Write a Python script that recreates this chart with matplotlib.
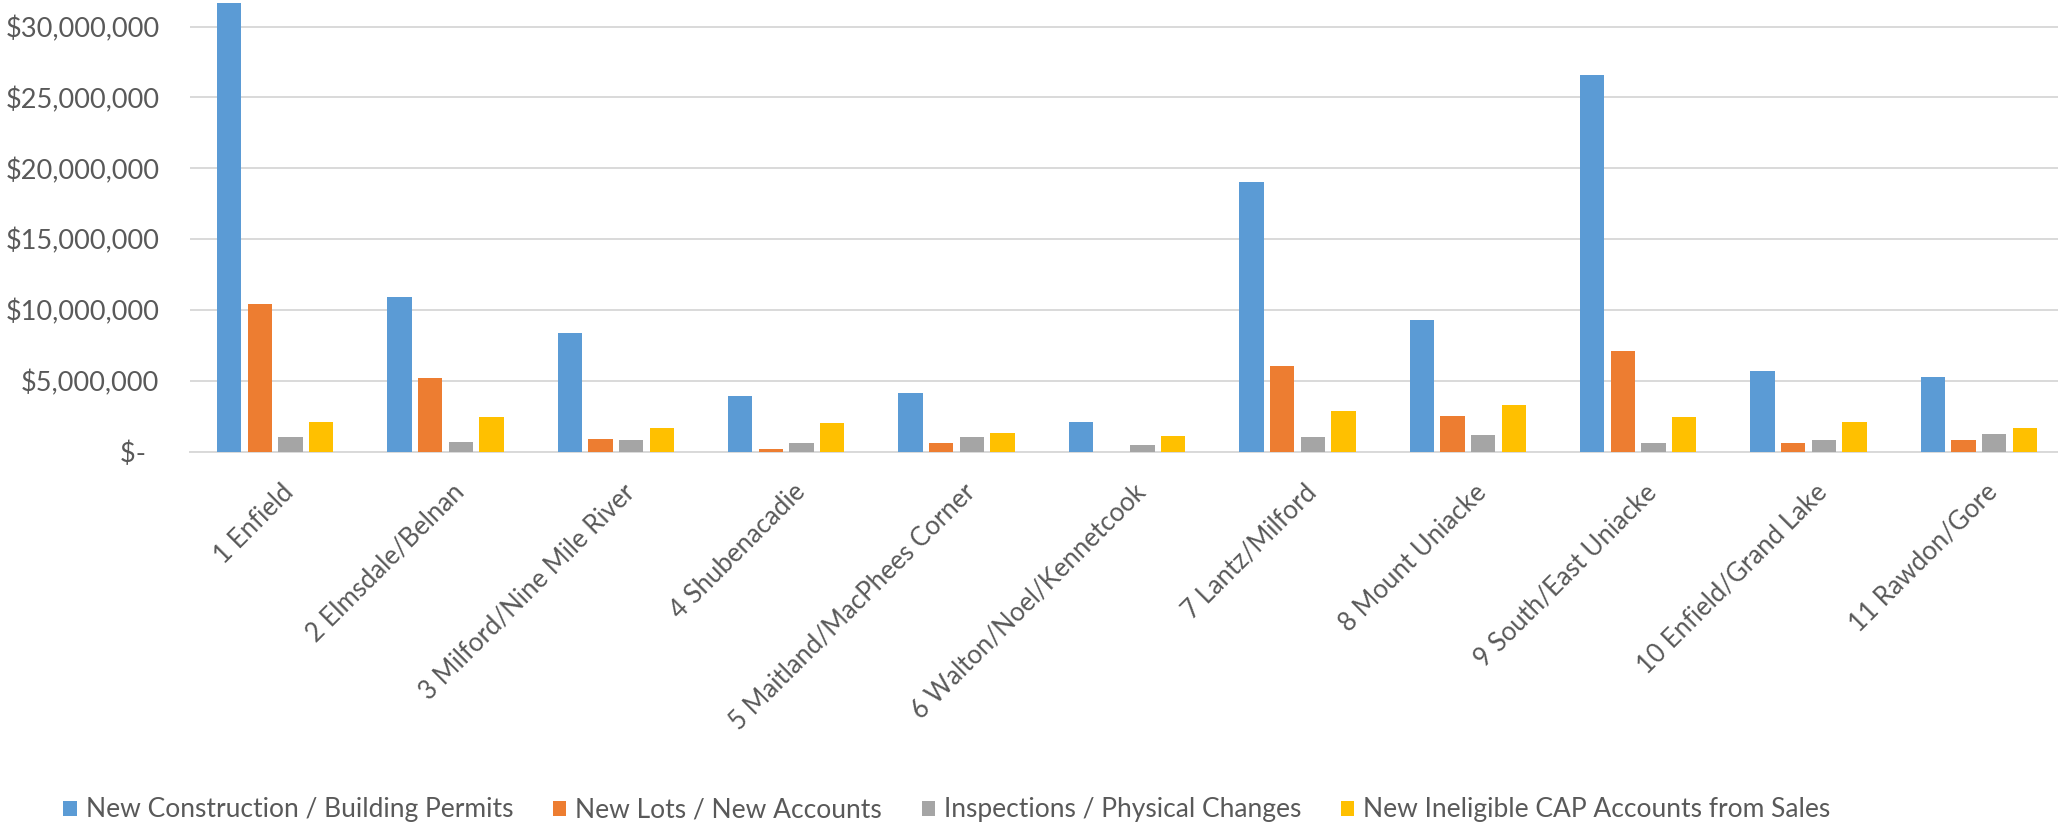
import numpy as np
import matplotlib
matplotlib.use("Agg")
import matplotlib.pyplot as plt
import matplotlib.transforms as mtransforms
from matplotlib.ticker import FuncFormatter

# Districts and the four assessment series (dollars)
districts = [
    "1 Enfield", "2 Elmsdale/Belnan", "3 Milford/Nine Mile River",
    "4 Shubenacadie", "5 Maitland/MacPhees Corner", "6 Walton/Noel/Kennetcook",
    "7 Lantz/Milford", "8 Mount Uniacke", "9 South/East Uniacke",
    "10 Enfield/Grand Lake", "11 Rawdon/Gore",
]
new_construction = [31.7e6, 10.95e6, 8.36e6, 3.95e6, 4.16e6, 2.10e6,
                    19.01e6, 9.29e6, 26.56e6, 5.72e6, 5.29e6]
new_lots = [10.42e6, 5.18e6, 0.92e6, 0.17e6, 0.59e6, 0.0,
            6.05e6, 2.54e6, 7.13e6, 0.59e6, 0.80e6]
inspections = [1.06e6, 0.71e6, 0.80e6, 0.59e6, 1.04e6, 0.47e6,
               1.04e6, 1.15e6, 0.59e6, 0.83e6, 1.25e6]
ineligible_cap = [2.12e6, 2.47e6, 1.67e6, 2.00e6, 1.34e6, 1.13e6,
                  2.89e6, 3.32e6, 2.45e6, 2.12e6, 1.69e6]

series_names = [
    "New Construction / Building Permits",
    "New Lots / New Accounts",
    "Inspections / Physical Changes",
    "New Ineligible CAP Accounts from Sales",
]
colors = ["#5B9BD5", "#ED7D31", "#A5A5A5", "#FFC000"]
text_color = "#595959"

plt.rcParams["font.family"] = ["Lato", "DejaVu Sans"]

fig = plt.figure(figsize=(20.58, 8.26), dpi=100)
# plot area: x 190..2064 px, y 0..452 px (from top)
ax = fig.add_axes([190 / 2058, 1 - 451.7 / 826, 1874 / 2058, 451.7 / 826])

x = np.arange(len(districts))
slot = 0.18
width = 0.143
all_series = [new_construction, new_lots, inspections, ineligible_cap]
for i, (vals, name, c) in enumerate(zip(all_series, series_names, colors)):
    ax.bar(x + (i - 1.5) * slot, vals, width=width, color=c, label=name, zorder=3)

ax.set_xlim(-0.5, len(districts) - 0.5)
ax.set_ylim(0, 31.88e6)
ax.set_yticks(np.arange(0, 30.1e6, 5e6))


def money(v, pos):
    if v == 0:
        return "$-  "
    return "${:,.0f}".format(v)


ax.yaxis.set_major_formatter(FuncFormatter(money))
ax.grid(axis="y", color="#D9D9D9", linewidth=1.4, zorder=0)
for s in ["top", "right", "left"]:
    ax.spines[s].set_visible(False)
ax.spines["bottom"].set_color("#D9D9D9")
ax.spines["bottom"].set_linewidth(1.4)

ax.tick_params(axis="y", length=0, pad=22, labelsize=19.5, labelcolor=text_color)
ax.tick_params(axis="x", length=0, pad=20, labelsize=18.5, labelcolor=text_color)
ax.set_xticks(x)
ax.set_xticklabels(districts, rotation=45, ha="right", va="top",
                   rotation_mode="anchor")
# nudge the rotated labels a little to the right, like the original
shift = mtransforms.ScaledTranslation(0.06, 0, fig.dpi_scale_trans)
for lab in ax.get_xticklabels():
    lab.set_transform(lab.get_transform() + shift)

fig.legend(loc="center", bbox_to_anchor=(947 / 2058, 1 - 810 / 826), ncol=4,
           frameon=False, fontsize=19, labelcolor=text_color,
           handlelength=0.5, handleheight=0.5, handletextpad=0.35,
           columnspacing=1.5)

fig.savefig("out.png", dpi=100)
